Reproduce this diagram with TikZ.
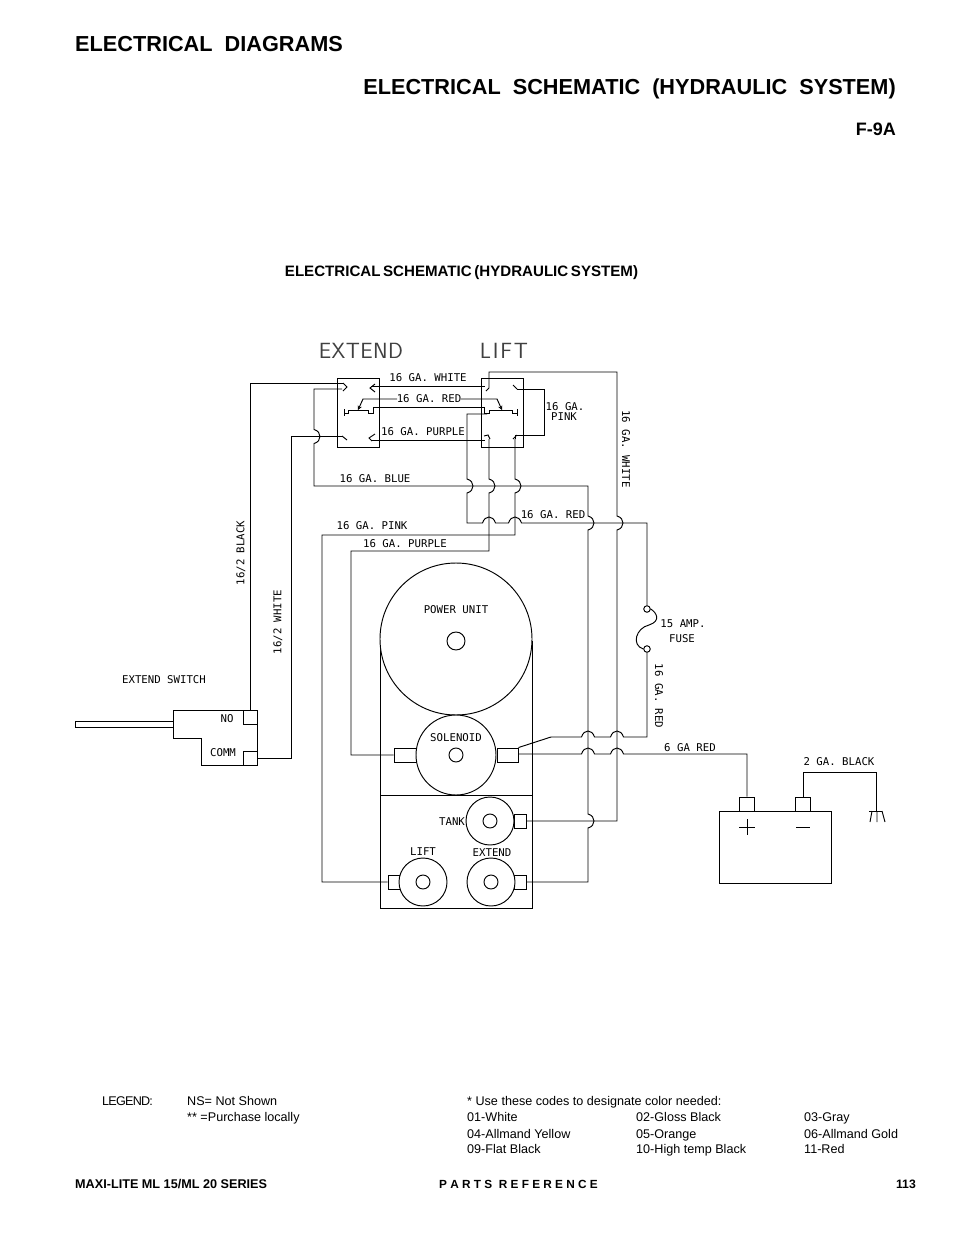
\documentclass[tikz,border=0pt]{standalone}
\usepackage{fontspec}
\setmainfont{Liberation Sans}
\newfontfamily\cadfont{DejaVu Sans Mono}
\newfontfamily\bigcad{Latin Modern Sans}
\usetikzlibrary{arrows}
\tikzstyle{wire}=[line width=.95pt,black]
\tikzstyle{arrow}=[line width=.95pt,black,->,>=stealth]
\tikzstyle{cad}=[inner sep=0,font=\cadfont\fontsize{10.7}{11}\selectfont]
\tikzstyle{bigcad}=[inner sep=0,black!75,font=\bigcad\fontsize{22}{24}\selectfont]
\tikzstyle{head}=[inner sep=0,font=\bfseries\fontsize{21.7}{24}\selectfont]
\tikzstyle{small}=[inner sep=0,anchor=base west,font=\fontsize{12.6}{14}\selectfont]
\tikzstyle{foot}=[inner sep=0,anchor=base west,font=\bfseries\fontsize{12.65}{14}\selectfont]
\tikzstyle{box}=[draw=black,line width=.95pt,inner sep=0]
\tikzstyle{port}=[rectangle,draw=black,line width=.95pt,inner sep=0,fill=white]
\tikzstyle{drum}=[shape=circle,draw=black,line width=.95pt,inner sep=0,fill=white]
\tikzstyle{hole}=[shape=circle,draw=black,line width=.95pt,inner sep=0,minimum size=14pt]
\tikzstyle{term}=[shape=circle,draw=black,line width=.95pt,inner sep=0,minimum size=6.5pt,fill=white]
% wire jumps
\newcommand{\hopup}[2]{-- (#1-6.5,#2) .. controls (#1-4,#2-8) and (#1+4,#2-8) .. (#1+6.5,#2)}
\newcommand{\hopright}[2]{-- (#1,#2-7) .. controls (#1+8,#2-5) and (#1+8,#2+5) .. (#1,#2+7)}
\begin{document}
\begin{tikzpicture}[x=1pt,y=-1pt]
\useasboundingbox (0,0) rectangle (954,1235);
% page text
\node[head,anchor=west] (pagehead) at (75,44) {ELECTRICAL\ \ DIAGRAMS};
\node[head,anchor=east] (schemhead) at (896,88.5) {ELECTRICAL\ \ SCHEMATIC\ \ (HYDRAULIC\ \ SYSTEM)};
\node[head,anchor=east,font=\bfseries\fontsize{18}{20}\selectfont] (figno) at (896,129) {F-9A};
\node[inner sep=0,font=\bfseries\fontsize{15.1}{16}\selectfont] (subhead) at (461.5,272.5) {\spaceskip=2.6pt ELECTRICAL SCHEMATIC (HYDRAULIC SYSTEM)};
\node[bigcad] (extendtitle) at (361,351) {\addfontfeature{LetterSpace=2}EXTEND};
\node[bigcad] (lifttitle) at (504,351) {\addfontfeature{LetterSpace=8}LIFT};

% valve boxes
\node[box,minimum width=42pt,minimum height=69pt] (extendbox) at (358,412.5) {};
\node[box,minimum width=42pt,minimum height=69pt] (liftbox) at (502,412.5) {};
% contacts
\draw[wire] (343,383)--(347,387)--(343,391);
\draw[wire] (342,436)--(347,440);
\draw[wire] (375,384)--(370,388)--(375,392);
\draw[wire] (375,434)--(369,438)--(372,441);
\draw[wire] (489,388)--(486,391);
\draw[wire] (484,436)--(488,435)--(490,439);
\draw[wire] (513,385)--(517,389);
\draw[wire] (517,435)--(513,439);
\draw[wire] (344,409)--(344,416);
\draw[wire] (344,413)--(348,413)--(348,410)--(368,410)--(368,413)--(373,413)--(373,407);
\draw[wire] (484,407)--(484,413)--(489,413)--(489,410)--(512,410)--(512,413)--(517,413);
\draw[wire] (517,409)--(517,416);
\coordinate (redleft) at (397,399);
\coordinate (redright) at (461,399);
\draw[arrow] (redleft)--(363,399)--(358,410);
\draw[arrow] (redright)--(497,399)--(502,410);

% power unit and solenoid
\draw[wire] (380,641)--(380,908)--(532,908)--(532,641);
\draw[wire] (380,795)--(532,795);
\node[drum,minimum size=152pt] (powerunit) at (456,639) {};
\node[hole,minimum size=18pt] (powerhole) at (456,641) {};
\node[port,minimum width=22pt,minimum height=14pt] (solleft) at (405,755) {};
\node[port,minimum width=21pt,minimum height=14pt] (solright) at (507.5,755) {};
\node[drum,minimum size=80pt] (solenoid) at (456,755) {};
\node[hole] (solhole) at (456,755) {};
% lower valves
\node[port,minimum width=12pt,minimum height=14pt] (tankport) at (520,821) {};
\node[drum,minimum size=48pt] (tank) at (490,821) {};
\node[hole] (tankhole) at (490,821) {};
\node[port,minimum width=12pt,minimum height=14pt] (liftport) at (394,882) {};
\node[drum,minimum size=48pt] (liftvalve) at (423,882) {};
\node[hole] (lifthole) at (423,882) {};
\node[port,minimum width=12pt,minimum height=14pt] (extendport) at (520,882) {};
\node[drum,minimum size=48pt] (extendvalve) at (491,882) {};
\node[hole] (extendhole) at (491,882) {};

% switch
\draw[wire] (75,721)--(173,721) (75,727)--(173,727) (75,721)--(75,727);
\draw[wire] (173,710)--(257,710)--(257,765)--(201,765)--(201,738)--(173,738)--cycle;
\node[port,minimum width=14pt,minimum height=14pt] (noport) at (250,717) {};
\node[port,minimum width=14pt,minimum height=14pt] (commport) at (250,758) {};

% fuse and battery
\node[term] (fusetop) at (647,609) {};
\node[term] (fusebot) at (647,649) {};
\draw[wire] (fusetop.east) .. controls (657,613) and (661,621) .. (649,625) .. controls (636,628) and (631,645) .. (fusebot.west);
\node[box,minimum width=112pt,minimum height=72pt] (battery) at (775,847) {};
\node[port,minimum width=15pt,minimum height=14pt] (posplus) at (747,804) {};
\node[port,minimum width=15pt,minimum height=14pt] (posminus) at (803,804) {};
\draw[wire] (747,819)--(747,835) (739,827)--(755,827);
\draw[wire] (796,827)--(810,827);
\coordinate (ground) at (876,811);
\draw[wire] (869,811)--(882,811);
\draw[wire] (872,811)--(870,822) (877,811)--(877,822) (882,811)--(885,822);

% wires
\draw[wire] (noport.north)--(250,383)--(343,383);
\draw[wire] (commport.east)--(291,758)--(291,436.5)--(342,436.5);
\draw[wire] (342,389)--(314,389) \hopright{314}{436.5}--(314,486)--(588,486) \hopright{588}{523} \hopright{588}{821}--(588,882)--(extendport.east);
\draw[wire] (371,386)--(485,386);
\draw[wire] (371,440)--(485,440);
\draw[wire] (373,407)--(484,407);
\draw[wire] (489,388)--(489,372)--(617,372) \hopright{617}{523}--(617,821)--(tankport.east);
\draw[wire] (487,414)--(467,414) \hopright{467}{486}--(467,523) \hopup{489}{523} \hopup{515}{523}--(647,523)--(fusetop.north);
\draw[wire] (489,439) \hopright{489}{486}--(489,551)--(351,551)--(351,755)--(solleft.west);
\draw[wire] (515,439)--(515,435)--(544,435)--(544,389)--(517,389);
\draw[wire] (515,439) \hopright{515}{486}--(515,535)--(322,535)--(322,882)--(liftport.west);
\draw[wire] (solright.north east)--(551,737) \hopup{588}{737} \hopup{617}{737}--(647,737)--(fusebot.south);
\draw[wire] (518,754) \hopup{588}{754} \hopup{617}{754}--(747,754)--(posplus.north);
\draw[wire] (posminus.north)--(803,772)--(876,772)--(ground);

% wire labels
\node[cad] (whitelbl) at (428,378) {16 GA. WHITE};
\node[cad] (redlbl) at (429,399) {16 GA. RED};
\node[cad] (purplelbl) at (423,432) {16 GA. PURPLE};
\node[cad] (pinklbla) at (565,407) {16 GA.};
\node[cad] (pinklblb) at (564,417) {PINK};
\node[cad,rotate=-90] (whitevert) at (626,449) {16 GA. WHITE};
\node[cad] (bluelbl) at (375,479) {16 GA. BLUE};
\node[cad] (redlblb) at (553,515) {16 GA. RED};
\node[cad] (pinklblc) at (372,526) {16 GA. PINK};
\node[cad] (purplelblb) at (405,544) {16 GA. PURPLE};
\node[cad,rotate=90] (blackvert) at (241,553) {16/2 BLACK};
\node[cad,rotate=90] (whitevertb) at (278,622) {16/2 WHITE};
\node[cad] (powerlbl) at (456,610) {POWER UNIT};
\node[cad] (amplbl) at (683,624) {15 AMP.};
\node[cad] (fuselbl) at (682,639) {FUSE};
\node[cad,rotate=-90] (redvert) at (659,696) {16 GA. RED};
\node[cad] (swlbl) at (164,680) {EXTEND SWITCH};
\node[cad] (nolbl) at (227,719) {NO};
\node[cad] (commlbl) at (223,753) {COMM};
\node[cad] (sollbl) at (456,738) {SOLENOID};
\node[cad] (sixlbl) at (690,748) {6 GA RED};
\node[cad] (twolbl) at (839,762) {2 GA. BLACK};
\node[cad] (tanklbl) at (452,822) {TANK};
\node[cad] (liftlbl) at (423,852) {LIFT};
\node[cad] (extendlbl) at (492,853) {EXTEND};

% legend
\node[small] (legend) at (102,1105) {\addfontfeature{LetterSpace=-6}LEGEND:};
\node[small] (nslbl) at (187,1105) {NS= Not Shown};
\node[small] (purchlbl) at (187,1121) {** =Purchase locally};
\node[small] (codes) at (467,1105) {* Use these codes to designate color needed:};
\node[small] (c01) at (467,1121) {01-White};
\node[small] (c02) at (636,1121) {02-Gloss Black};
\node[small] (c03) at (804,1121) {03-Gray};
\node[small] (c04) at (467,1138) {04-Allmand Yellow};
\node[small] (c05) at (636,1138) {05-Orange};
\node[small] (c06) at (804,1138) {06-Allmand Gold};
\node[small] (c09) at (467,1153) {09-Flat Black};
\node[small] (c10) at (636,1153) {10-High temp Black};
\node[small] (c11) at (804,1153) {11-Red};
% footer
\node[foot] (series) at (75,1188) {MAXI-LITE ML 15/ML 20 SERIES};
\node[foot,font=\bfseries\fontsize{11.8}{14}\selectfont] (partsref) at (439,1188) {P A R T S\ \ R E F E R E N C E};
\node[foot,anchor=base east,font=\bfseries\fontsize{12.2}{14}\selectfont] (pageno) at (916,1188) {113};
\end{tikzpicture}
\end{document}
